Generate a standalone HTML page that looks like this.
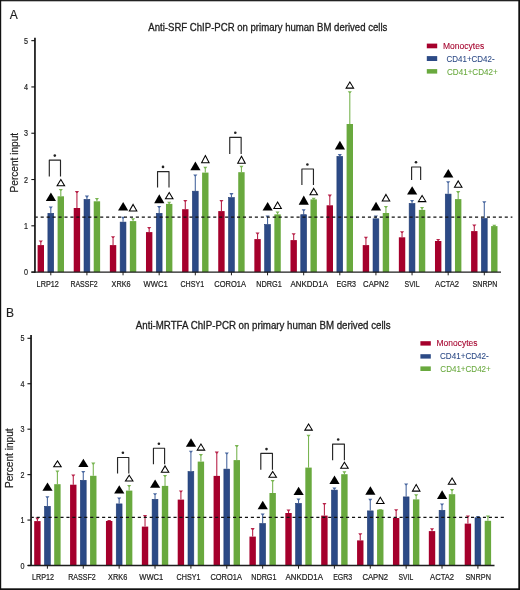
<!DOCTYPE html>
<html><head><meta charset="utf-8"><title>ChIP-PCR</title>
<style>html,body{margin:0;padding:0;background:#fff;width:520px;height:590px;overflow:hidden;font-family:"Liberation Sans",sans-serif;}</style>
</head><body>
<svg width="520" height="590" viewBox="0 0 520 590" style="display:block;will-change:transform;font-family:'Liberation Sans', sans-serif">
<rect x="0" y="0" width="520" height="590" fill="#fff"/>
<line x1="40.8" y1="241.5" x2="40.8" y2="245.1" stroke="#b8234a" stroke-width="1.1"/>
<polygon points="38.75,240.4 42.85,240.4 41.5,242.2 40.1,242.2" fill="#b8234a"/>
<rect x="37.6" y="245.1" width="6.4" height="27" fill="#a5002c"/>
<line x1="50.8" y1="207.5" x2="50.8" y2="213" stroke="#4a68a0" stroke-width="1.1"/>
<polygon points="48.75,206.4 52.85,206.4 51.5,208.2 50.1,208.2" fill="#4a68a0"/>
<rect x="47.9" y="213.3" width="5.8" height="58.8" fill="#2c4a86" stroke="#203c74" stroke-width="0.6"/>
<line x1="60.8" y1="190" x2="60.8" y2="196.3" stroke="#79b552" stroke-width="1.1"/>
<polygon points="58.75,188.9 62.85,188.9 61.5,190.7 60.1,190.7" fill="#79b552"/>
<rect x="57.6" y="196.3" width="6.4" height="75.8" fill="#69a93e"/>
<line x1="76.92" y1="192.2" x2="76.92" y2="208" stroke="#b8234a" stroke-width="1.1"/>
<polygon points="74.88,191.1 78.97,191.1 77.62,192.9 76.22,192.9" fill="#b8234a"/>
<rect x="73.72" y="208" width="6.4" height="64.1" fill="#a5002c"/>
<line x1="86.92" y1="196.7" x2="86.92" y2="199.1" stroke="#4a68a0" stroke-width="1.1"/>
<polygon points="84.88,195.6 88.97,195.6 87.62,197.4 86.22,197.4" fill="#4a68a0"/>
<rect x="84.02" y="199.4" width="5.8" height="72.7" fill="#2c4a86" stroke="#203c74" stroke-width="0.6"/>
<line x1="96.92" y1="199" x2="96.92" y2="201.3" stroke="#79b552" stroke-width="1.1"/>
<polygon points="94.88,197.9 98.97,197.9 97.62,199.7 96.22,199.7" fill="#79b552"/>
<rect x="93.72" y="201.3" width="6.4" height="70.8" fill="#69a93e"/>
<line x1="113.05" y1="237.4" x2="113.05" y2="245.1" stroke="#b8234a" stroke-width="1.1"/>
<polygon points="111,236.3 115.1,236.3 113.75,238.1 112.35,238.1" fill="#b8234a"/>
<rect x="109.85" y="245.1" width="6.4" height="27" fill="#a5002c"/>
<line x1="123.05" y1="217.8" x2="123.05" y2="221.8" stroke="#4a68a0" stroke-width="1.1"/>
<polygon points="121,216.7 125.1,216.7 123.75,218.5 122.35,218.5" fill="#4a68a0"/>
<rect x="120.15" y="222.1" width="5.8" height="50" fill="#2c4a86" stroke="#203c74" stroke-width="0.6"/>
<line x1="133.05" y1="219.3" x2="133.05" y2="221.1" stroke="#79b552" stroke-width="1.1"/>
<polygon points="131,218.2 135.1,218.2 133.75,220 132.35,220" fill="#79b552"/>
<rect x="129.85" y="221.1" width="6.4" height="51" fill="#69a93e"/>
<line x1="149.18" y1="228" x2="149.18" y2="232.1" stroke="#b8234a" stroke-width="1.1"/>
<polygon points="147.12,226.9 151.23,226.9 149.88,228.7 148.48,228.7" fill="#b8234a"/>
<rect x="145.98" y="232.1" width="6.4" height="40" fill="#a5002c"/>
<line x1="159.18" y1="207.1" x2="159.18" y2="213" stroke="#4a68a0" stroke-width="1.1"/>
<polygon points="157.12,206 161.23,206 159.88,207.8 158.48,207.8" fill="#4a68a0"/>
<rect x="156.28" y="213.3" width="5.8" height="58.8" fill="#2c4a86" stroke="#203c74" stroke-width="0.6"/>
<line x1="169.18" y1="202.9" x2="169.18" y2="203.9" stroke="#79b552" stroke-width="1.1"/>
<polygon points="167.12,201.8 171.23,201.8 169.88,203.6 168.48,203.6" fill="#79b552"/>
<rect x="165.98" y="203.9" width="6.4" height="68.2" fill="#69a93e"/>
<line x1="185.3" y1="201.1" x2="185.3" y2="209.2" stroke="#b8234a" stroke-width="1.1"/>
<polygon points="183.25,200 187.35,200 186,201.8 184.6,201.8" fill="#b8234a"/>
<rect x="182.1" y="209.2" width="6.4" height="62.9" fill="#a5002c"/>
<line x1="195.3" y1="175.5" x2="195.3" y2="190.9" stroke="#4a68a0" stroke-width="1.1"/>
<polygon points="193.25,174.4 197.35,174.4 196,176.2 194.6,176.2" fill="#4a68a0"/>
<rect x="192.4" y="191.2" width="5.8" height="80.9" fill="#2c4a86" stroke="#203c74" stroke-width="0.6"/>
<line x1="205.3" y1="167.9" x2="205.3" y2="172.6" stroke="#79b552" stroke-width="1.1"/>
<polygon points="203.25,166.8 207.35,166.8 206,168.6 204.6,168.6" fill="#79b552"/>
<rect x="202.1" y="172.6" width="6.4" height="99.5" fill="#69a93e"/>
<line x1="221.43" y1="201.1" x2="221.43" y2="211.1" stroke="#b8234a" stroke-width="1.1"/>
<polygon points="219.38,200 223.48,200 222.12,201.8 220.73,201.8" fill="#b8234a"/>
<rect x="218.23" y="211.1" width="6.4" height="61" fill="#a5002c"/>
<line x1="231.43" y1="194.2" x2="231.43" y2="197.3" stroke="#4a68a0" stroke-width="1.1"/>
<polygon points="229.38,193.1 233.48,193.1 232.12,194.9 230.73,194.9" fill="#4a68a0"/>
<rect x="228.53" y="197.6" width="5.8" height="74.5" fill="#2c4a86" stroke="#203c74" stroke-width="0.6"/>
<line x1="241.43" y1="166.8" x2="241.43" y2="172.2" stroke="#79b552" stroke-width="1.1"/>
<polygon points="239.38,165.7 243.48,165.7 242.12,167.5 240.73,167.5" fill="#79b552"/>
<rect x="238.23" y="172.2" width="6.4" height="99.9" fill="#69a93e"/>
<line x1="257.55" y1="233.6" x2="257.55" y2="239.1" stroke="#b8234a" stroke-width="1.1"/>
<polygon points="255.5,232.5 259.6,232.5 258.25,234.3 256.85,234.3" fill="#b8234a"/>
<rect x="254.35" y="239.1" width="6.4" height="33" fill="#a5002c"/>
<line x1="267.55" y1="216.5" x2="267.55" y2="224.2" stroke="#4a68a0" stroke-width="1.1"/>
<polygon points="265.5,215.4 269.6,215.4 268.25,217.2 266.85,217.2" fill="#4a68a0"/>
<rect x="264.65" y="224.5" width="5.8" height="47.6" fill="#2c4a86" stroke="#203c74" stroke-width="0.6"/>
<line x1="277.55" y1="212.6" x2="277.55" y2="214.4" stroke="#79b552" stroke-width="1.1"/>
<polygon points="275.5,211.5 279.6,211.5 278.25,213.3 276.85,213.3" fill="#79b552"/>
<rect x="274.35" y="214.4" width="6.4" height="57.7" fill="#69a93e"/>
<line x1="293.68" y1="234.4" x2="293.68" y2="240.1" stroke="#b8234a" stroke-width="1.1"/>
<polygon points="291.62,233.3 295.73,233.3 294.38,235.1 292.98,235.1" fill="#b8234a"/>
<rect x="290.48" y="240.1" width="6.4" height="32" fill="#a5002c"/>
<line x1="303.68" y1="210.3" x2="303.68" y2="214.4" stroke="#4a68a0" stroke-width="1.1"/>
<polygon points="301.62,209.2 305.73,209.2 304.38,211 302.98,211" fill="#4a68a0"/>
<rect x="300.78" y="214.7" width="5.8" height="57.4" fill="#2c4a86" stroke="#203c74" stroke-width="0.6"/>
<line x1="313.68" y1="198.8" x2="313.68" y2="199.4" stroke="#79b552" stroke-width="1.1"/>
<polygon points="311.62,197.7 315.73,197.7 314.38,199.5 312.98,199.5" fill="#79b552"/>
<rect x="310.48" y="199.4" width="6.4" height="72.7" fill="#69a93e"/>
<line x1="329.8" y1="195.7" x2="329.8" y2="205.3" stroke="#b8234a" stroke-width="1.1"/>
<polygon points="327.75,194.6 331.85,194.6 330.5,196.4 329.1,196.4" fill="#b8234a"/>
<rect x="326.6" y="205.3" width="6.4" height="66.8" fill="#a5002c"/>
<line x1="339.8" y1="155.2" x2="339.8" y2="156.1" stroke="#4a68a0" stroke-width="1.1"/>
<polygon points="337.75,154.1 341.85,154.1 340.5,155.9 339.1,155.9" fill="#4a68a0"/>
<rect x="336.9" y="156.4" width="5.8" height="115.7" fill="#2c4a86" stroke="#203c74" stroke-width="0.6"/>
<line x1="349.8" y1="92.3" x2="349.8" y2="124" stroke="#79b552" stroke-width="1.1"/>
<polygon points="347.75,91.2 351.85,91.2 350.5,93 349.1,93" fill="#79b552"/>
<rect x="346.6" y="124" width="6.4" height="148.1" fill="#69a93e"/>
<line x1="365.93" y1="237.9" x2="365.93" y2="245.1" stroke="#b8234a" stroke-width="1.1"/>
<polygon points="363.88,236.8 367.98,236.8 366.62,238.6 365.23,238.6" fill="#b8234a"/>
<rect x="362.73" y="245.1" width="6.4" height="27" fill="#a5002c"/>
<line x1="375.93" y1="216.5" x2="375.93" y2="218.5" stroke="#4a68a0" stroke-width="1.1"/>
<polygon points="373.88,215.4 377.98,215.4 376.62,217.2 375.23,217.2" fill="#4a68a0"/>
<rect x="373.03" y="218.8" width="5.8" height="53.3" fill="#2c4a86" stroke="#203c74" stroke-width="0.6"/>
<line x1="385.93" y1="207.1" x2="385.93" y2="213" stroke="#79b552" stroke-width="1.1"/>
<polygon points="383.88,206 387.98,206 386.62,207.8 385.23,207.8" fill="#79b552"/>
<rect x="382.73" y="213" width="6.4" height="59.1" fill="#69a93e"/>
<line x1="402.05" y1="232.3" x2="402.05" y2="237.3" stroke="#b8234a" stroke-width="1.1"/>
<polygon points="400,231.2 404.1,231.2 402.75,233 401.35,233" fill="#b8234a"/>
<rect x="398.85" y="237.3" width="6.4" height="34.8" fill="#a5002c"/>
<line x1="412.05" y1="201" x2="412.05" y2="203.2" stroke="#4a68a0" stroke-width="1.1"/>
<polygon points="410,199.9 414.1,199.9 412.75,201.7 411.35,201.7" fill="#4a68a0"/>
<rect x="409.15" y="203.5" width="5.8" height="68.6" fill="#2c4a86" stroke="#203c74" stroke-width="0.6"/>
<line x1="422.05" y1="208.1" x2="422.05" y2="209.9" stroke="#79b552" stroke-width="1.1"/>
<polygon points="420,207 424.1,207 422.75,208.8 421.35,208.8" fill="#79b552"/>
<rect x="418.85" y="209.9" width="6.4" height="62.2" fill="#69a93e"/>
<line x1="438.18" y1="240.1" x2="438.18" y2="241" stroke="#b8234a" stroke-width="1.1"/>
<polygon points="436.12,239 440.23,239 438.88,240.8 437.48,240.8" fill="#b8234a"/>
<rect x="434.98" y="241" width="6.4" height="31.1" fill="#a5002c"/>
<line x1="448.18" y1="182.4" x2="448.18" y2="193.8" stroke="#4a68a0" stroke-width="1.1"/>
<polygon points="446.12,181.3 450.23,181.3 448.88,183.1 447.48,183.1" fill="#4a68a0"/>
<rect x="445.28" y="194.1" width="5.8" height="78" fill="#2c4a86" stroke="#203c74" stroke-width="0.6"/>
<line x1="458.18" y1="192.2" x2="458.18" y2="199.1" stroke="#79b552" stroke-width="1.1"/>
<polygon points="456.12,191.1 460.23,191.1 458.88,192.9 457.48,192.9" fill="#79b552"/>
<rect x="454.98" y="199.1" width="6.4" height="73" fill="#69a93e"/>
<line x1="474.3" y1="225.6" x2="474.3" y2="231.1" stroke="#b8234a" stroke-width="1.1"/>
<polygon points="472.25,224.5 476.35,224.5 475,226.3 473.6,226.3" fill="#b8234a"/>
<rect x="471.1" y="231.1" width="6.4" height="41" fill="#a5002c"/>
<line x1="484.3" y1="202.3" x2="484.3" y2="218.1" stroke="#4a68a0" stroke-width="1.1"/>
<polygon points="482.25,201.2 486.35,201.2 485,203 483.6,203" fill="#4a68a0"/>
<rect x="481.4" y="218.4" width="5.8" height="53.7" fill="#2c4a86" stroke="#203c74" stroke-width="0.6"/>
<line x1="494.3" y1="225.8" x2="494.3" y2="226.1" stroke="#79b552" stroke-width="1.1"/>
<polygon points="492.25,224.7 496.35,224.7 495,226.5 493.6,226.5" fill="#79b552"/>
<rect x="491.1" y="226.1" width="6.4" height="46" fill="#69a93e"/>
<line x1="35.3" y1="217.1" x2="512.4" y2="217.1" stroke="#111" stroke-width="1.4" stroke-dasharray="3.1 2.85" stroke-dashoffset="0.6"/>
<line x1="34.95" y1="37.8" x2="34.95" y2="272.7" stroke="#151515" stroke-width="1.7"/>
<line x1="31.4" y1="272.1" x2="501" y2="272.1" stroke="#1e1e1e" stroke-width="1.3"/>
<line x1="31.35" y1="272.1" x2="34.95" y2="272.1" stroke="#111" stroke-width="1.1"/>
<text x="27.9" y="275.25" font-size="8.7" fill="#1e1e1e" stroke="#1e1e1e" stroke-width="0.2" text-anchor="end" textLength="4" lengthAdjust="spacingAndGlyphs">0</text>
<line x1="31.35" y1="225.81" x2="34.95" y2="225.81" stroke="#111" stroke-width="1.1"/>
<text x="27.9" y="228.96" font-size="8.7" fill="#1e1e1e" stroke="#1e1e1e" stroke-width="0.2" text-anchor="end" textLength="4" lengthAdjust="spacingAndGlyphs">1</text>
<line x1="31.35" y1="179.52" x2="34.95" y2="179.52" stroke="#111" stroke-width="1.1"/>
<text x="27.9" y="182.67" font-size="8.7" fill="#1e1e1e" stroke="#1e1e1e" stroke-width="0.2" text-anchor="end" textLength="4" lengthAdjust="spacingAndGlyphs">2</text>
<line x1="31.35" y1="133.23" x2="34.95" y2="133.23" stroke="#111" stroke-width="1.1"/>
<text x="27.9" y="136.38" font-size="8.7" fill="#1e1e1e" stroke="#1e1e1e" stroke-width="0.2" text-anchor="end" textLength="4" lengthAdjust="spacingAndGlyphs">3</text>
<line x1="31.35" y1="86.94" x2="34.95" y2="86.94" stroke="#111" stroke-width="1.1"/>
<text x="27.9" y="90.09" font-size="8.7" fill="#1e1e1e" stroke="#1e1e1e" stroke-width="0.2" text-anchor="end" textLength="4" lengthAdjust="spacingAndGlyphs">4</text>
<line x1="31.35" y1="40.65" x2="34.95" y2="40.65" stroke="#111" stroke-width="1.1"/>
<text x="27.9" y="43.8" font-size="8.7" fill="#1e1e1e" stroke="#1e1e1e" stroke-width="0.2" text-anchor="end" textLength="4" lengthAdjust="spacingAndGlyphs">5</text>
<line x1="50.8" y1="272.1" x2="50.8" y2="275.3" stroke="#1e1e1e" stroke-width="1"/>
<line x1="86.92" y1="272.1" x2="86.92" y2="275.3" stroke="#1e1e1e" stroke-width="1"/>
<line x1="123.05" y1="272.1" x2="123.05" y2="275.3" stroke="#1e1e1e" stroke-width="1"/>
<line x1="159.18" y1="272.1" x2="159.18" y2="275.3" stroke="#1e1e1e" stroke-width="1"/>
<line x1="195.3" y1="272.1" x2="195.3" y2="275.3" stroke="#1e1e1e" stroke-width="1"/>
<line x1="231.43" y1="272.1" x2="231.43" y2="275.3" stroke="#1e1e1e" stroke-width="1"/>
<line x1="267.55" y1="272.1" x2="267.55" y2="275.3" stroke="#1e1e1e" stroke-width="1"/>
<line x1="303.68" y1="272.1" x2="303.68" y2="275.3" stroke="#1e1e1e" stroke-width="1"/>
<line x1="339.8" y1="272.1" x2="339.8" y2="275.3" stroke="#1e1e1e" stroke-width="1"/>
<line x1="375.93" y1="272.1" x2="375.93" y2="275.3" stroke="#1e1e1e" stroke-width="1"/>
<line x1="412.05" y1="272.1" x2="412.05" y2="275.3" stroke="#1e1e1e" stroke-width="1"/>
<line x1="448.18" y1="272.1" x2="448.18" y2="275.3" stroke="#1e1e1e" stroke-width="1"/>
<line x1="484.3" y1="272.1" x2="484.3" y2="275.3" stroke="#1e1e1e" stroke-width="1"/>
<text x="36.61" y="286.6" font-size="8.8" fill="#1e1e1e" stroke="#1e1e1e" stroke-width="0.22" textLength="22.18" lengthAdjust="spacingAndGlyphs">LRP12</text>
<text x="70.41" y="286.6" font-size="8.8" fill="#1e1e1e" stroke="#1e1e1e" stroke-width="0.22" textLength="27.18" lengthAdjust="spacingAndGlyphs">RASSF2</text>
<text x="111.61" y="286.6" font-size="8.8" fill="#1e1e1e" stroke="#1e1e1e" stroke-width="0.22" textLength="19.08" lengthAdjust="spacingAndGlyphs">XRK6</text>
<text x="143.61" y="286.6" font-size="8.8" fill="#1e1e1e" stroke="#1e1e1e" stroke-width="0.22" textLength="24.08" lengthAdjust="spacingAndGlyphs">WWC1</text>
<text x="180.51" y="286.6" font-size="8.8" fill="#1e1e1e" stroke="#1e1e1e" stroke-width="0.22" textLength="23.58" lengthAdjust="spacingAndGlyphs">CHSY1</text>
<text x="214.31" y="286.6" font-size="8.8" fill="#1e1e1e" stroke="#1e1e1e" stroke-width="0.22" textLength="31.68" lengthAdjust="spacingAndGlyphs">CORO1A</text>
<text x="256.21" y="286.6" font-size="8.8" fill="#1e1e1e" stroke="#1e1e1e" stroke-width="0.22" textLength="25.58" lengthAdjust="spacingAndGlyphs">NDRG1</text>
<text x="290.51" y="286.6" font-size="8.8" fill="#1e1e1e" stroke="#1e1e1e" stroke-width="0.22" textLength="37.48" lengthAdjust="spacingAndGlyphs">ANKDD1A</text>
<text x="336.61" y="286.6" font-size="8.8" fill="#1e1e1e" stroke="#1e1e1e" stroke-width="0.22" textLength="19.38" lengthAdjust="spacingAndGlyphs">EGR3</text>
<text x="363.11" y="286.6" font-size="8.8" fill="#1e1e1e" stroke="#1e1e1e" stroke-width="0.22" textLength="25.58" lengthAdjust="spacingAndGlyphs">CAPN2</text>
<text x="404.61" y="286.6" font-size="8.8" fill="#1e1e1e" stroke="#1e1e1e" stroke-width="0.22" textLength="14.88" lengthAdjust="spacingAndGlyphs">SVIL</text>
<text x="435.11" y="286.6" font-size="8.8" fill="#1e1e1e" stroke="#1e1e1e" stroke-width="0.22" textLength="23.98" lengthAdjust="spacingAndGlyphs">ACTA2</text>
<text x="472.51" y="286.6" font-size="8.8" fill="#1e1e1e" stroke="#1e1e1e" stroke-width="0.22" textLength="24.98" lengthAdjust="spacingAndGlyphs">SNRPN</text>
<polygon points="50.9,192.4 56,200.9 45.8,200.9" fill="#000"/>
<polygon points="123.15,202.1 128.25,210.6 118.05,210.6" fill="#000"/>
<polygon points="159.28,194.3 164.38,203.2 154.18,203.2" fill="#000"/>
<polygon points="195.4,161.6 200.5,170.3 190.3,170.3" fill="#000"/>
<polygon points="267.65,202.1 272.75,210.6 262.55,210.6" fill="#000"/>
<polygon points="303.78,195.6 308.88,204.7 298.68,204.7" fill="#000"/>
<polygon points="339.9,140.8 345,149.5 334.8,149.5" fill="#000"/>
<polygon points="376.03,201.8 381.13,210.5 370.93,210.5" fill="#000"/>
<polygon points="412.15,186.3 417.25,194.4 407.05,194.4" fill="#000"/>
<polygon points="448.28,168.9 453.38,177.6 443.18,177.6" fill="#000"/>
<polygon points="60.85,179.6 64.6,185.7 57.1,185.7" fill="#fff" stroke="#000" stroke-width="1.05" stroke-linejoin="miter"/>
<polygon points="133.1,204.4 136.85,210.9 129.35,210.9" fill="#fff" stroke="#000" stroke-width="1.05" stroke-linejoin="miter"/>
<polygon points="169.23,192.6 172.98,198.8 165.48,198.8" fill="#fff" stroke="#000" stroke-width="1.05" stroke-linejoin="miter"/>
<polygon points="205.35,155.6 209.1,162.7 201.6,162.7" fill="#fff" stroke="#000" stroke-width="1.05" stroke-linejoin="miter"/>
<polygon points="241.48,156.3 245.23,163.2 237.73,163.2" fill="#fff" stroke="#000" stroke-width="1.05" stroke-linejoin="miter"/>
<polygon points="277.6,202 281.35,208.5 273.85,208.5" fill="#fff" stroke="#000" stroke-width="1.05" stroke-linejoin="miter"/>
<polygon points="313.73,188.4 317.48,194.7 309.98,194.7" fill="#fff" stroke="#000" stroke-width="1.05" stroke-linejoin="miter"/>
<polygon points="349.85,82 353.6,88.1 346.1,88.1" fill="#fff" stroke="#000" stroke-width="1.05" stroke-linejoin="miter"/>
<polygon points="385.98,194.4 389.73,200.9 382.23,200.9" fill="#fff" stroke="#000" stroke-width="1.05" stroke-linejoin="miter"/>
<polygon points="422.1,195.4 425.85,201.6 418.35,201.6" fill="#fff" stroke="#000" stroke-width="1.05" stroke-linejoin="miter"/>
<polygon points="458.23,180.9 461.98,187.2 454.48,187.2" fill="#fff" stroke="#000" stroke-width="1.05" stroke-linejoin="miter"/>
<polyline points="49.3,176.4 49.3,160.15 60.5,160.15 60.5,176.4" fill="none" stroke="#262626" stroke-width="1.15" stroke-linejoin="round"/>
<circle cx="54.8" cy="155.6" r="1.3" fill="#222"/>
<polyline points="157.55,187.6 157.55,171.6 169,171.6 169,187.6" fill="none" stroke="#262626" stroke-width="1.15" stroke-linejoin="round"/>
<circle cx="163" cy="166.9" r="1.3" fill="#222"/>
<polyline points="229.75,153.9 229.75,137.3 241.15,137.3 241.15,153.9" fill="none" stroke="#262626" stroke-width="1.15" stroke-linejoin="round"/>
<circle cx="235.3" cy="132.7" r="1.3" fill="#222"/>
<polyline points="301.9,185.1 301.9,169 313.45,169 313.45,185.1" fill="none" stroke="#262626" stroke-width="1.15" stroke-linejoin="round"/>
<circle cx="307.4" cy="164.5" r="1.3" fill="#222"/>
<polyline points="411.6,180 411.6,167 420.65,167 420.65,180" fill="none" stroke="#262626" stroke-width="1.15" stroke-linejoin="round"/>
<circle cx="416" cy="162.3" r="1.3" fill="#222"/>
<text x="148.35" y="31.3" font-size="10.3" fill="#1e1e1e" stroke="#1e1e1e" stroke-width="0.3" textLength="239" lengthAdjust="spacingAndGlyphs">Anti-SRF ChIP-PCR on primary human BM derived cells</text>
<text x="9.8" y="18.8" font-size="12" fill="#1e1e1e" stroke="#1e1e1e" stroke-width="0.15">A</text>
<rect x="426.8" y="43.6" width="10.4" height="4.7" fill="#a5002c"/>
<text x="443.04" y="48.5" font-size="8.5" fill="#a5002c" stroke="#a5002c" stroke-width="0.08" textLength="41.12" lengthAdjust="spacingAndGlyphs">Monocytes</text>
<rect x="426.8" y="56.1" width="10.4" height="4.9" fill="#2c4a86"/>
<text x="446.54" y="61.8" font-size="8.5" fill="#2c4a86" stroke="#2c4a86" stroke-width="0.08" textLength="48.02" lengthAdjust="spacingAndGlyphs">CD41+CD42-</text>
<rect x="426.8" y="69.1" width="10.4" height="4.5" fill="#69a93e"/>
<text x="447.04" y="74.5" font-size="8.5" fill="#69a93e" stroke="#69a93e" stroke-width="0.08" textLength="50.62" lengthAdjust="spacingAndGlyphs">CD41+CD42+</text>
<text transform="translate(17.5 192.4) rotate(-90)" font-size="10.4" fill="#1e1e1e" stroke="#1e1e1e" stroke-width="0.2" textLength="59.5" lengthAdjust="spacingAndGlyphs">Percent input</text>
<line x1="37.4" y1="518.7" x2="37.4" y2="521.1" stroke="#b8234a" stroke-width="1.1"/>
<polygon points="35.35,517.6 39.45,517.6 38.1,519.4 36.7,519.4" fill="#b8234a"/>
<rect x="34.2" y="521.1" width="6.4" height="44.4" fill="#a5002c"/>
<line x1="47.4" y1="497.3" x2="47.4" y2="506" stroke="#4a68a0" stroke-width="1.1"/>
<polygon points="45.35,496.2 49.45,496.2 48.1,498 46.7,498" fill="#4a68a0"/>
<rect x="44.5" y="506.3" width="5.8" height="59.2" fill="#2c4a86" stroke="#203c74" stroke-width="0.6"/>
<line x1="57.4" y1="471.5" x2="57.4" y2="484.2" stroke="#79b552" stroke-width="1.1"/>
<polygon points="55.35,470.4 59.45,470.4 58.1,472.2 56.7,472.2" fill="#79b552"/>
<rect x="54.2" y="484.2" width="6.4" height="81.3" fill="#69a93e"/>
<line x1="73.28" y1="475.5" x2="73.28" y2="484.7" stroke="#b8234a" stroke-width="1.1"/>
<polygon points="71.23,474.4 75.33,474.4 73.98,476.2 72.58,476.2" fill="#b8234a"/>
<rect x="70.08" y="484.7" width="6.4" height="80.8" fill="#a5002c"/>
<line x1="83.28" y1="472.1" x2="83.28" y2="480" stroke="#4a68a0" stroke-width="1.1"/>
<polygon points="81.23,471 85.33,471 83.98,472.8 82.58,472.8" fill="#4a68a0"/>
<rect x="80.38" y="480.3" width="5.8" height="85.2" fill="#2c4a86" stroke="#203c74" stroke-width="0.6"/>
<line x1="93.28" y1="463.7" x2="93.28" y2="475.8" stroke="#79b552" stroke-width="1.1"/>
<polygon points="91.23,462.6 95.33,462.6 93.98,464.4 92.58,464.4" fill="#79b552"/>
<rect x="90.08" y="475.8" width="6.4" height="89.7" fill="#69a93e"/>
<line x1="109.15" y1="521" x2="109.15" y2="521" stroke="#b8234a" stroke-width="1.1"/>
<polygon points="107.1,519.9 111.2,519.9 109.85,521.7 108.45,521.7" fill="#b8234a"/>
<rect x="105.95" y="521" width="6.4" height="44.5" fill="#a5002c"/>
<line x1="119.15" y1="498.5" x2="119.15" y2="503.6" stroke="#4a68a0" stroke-width="1.1"/>
<polygon points="117.1,497.4 121.2,497.4 119.85,499.2 118.45,499.2" fill="#4a68a0"/>
<rect x="116.25" y="503.9" width="5.8" height="61.6" fill="#2c4a86" stroke="#203c74" stroke-width="0.6"/>
<line x1="129.15" y1="486" x2="129.15" y2="490.6" stroke="#79b552" stroke-width="1.1"/>
<polygon points="127.1,484.9 131.2,484.9 129.85,486.7 128.45,486.7" fill="#79b552"/>
<rect x="125.95" y="490.6" width="6.4" height="74.9" fill="#69a93e"/>
<line x1="145.03" y1="516.2" x2="145.03" y2="526.6" stroke="#b8234a" stroke-width="1.1"/>
<polygon points="142.97,515.1 147.08,515.1 145.72,516.9 144.33,516.9" fill="#b8234a"/>
<rect x="141.83" y="526.6" width="6.4" height="38.9" fill="#a5002c"/>
<line x1="155.03" y1="494.4" x2="155.03" y2="499" stroke="#4a68a0" stroke-width="1.1"/>
<polygon points="152.97,493.3 157.08,493.3 155.72,495.1 154.33,495.1" fill="#4a68a0"/>
<rect x="152.13" y="499.3" width="5.8" height="66.2" fill="#2c4a86" stroke="#203c74" stroke-width="0.6"/>
<line x1="165.03" y1="476.1" x2="165.03" y2="485.9" stroke="#79b552" stroke-width="1.1"/>
<polygon points="162.97,475 167.08,475 165.72,476.8 164.33,476.8" fill="#79b552"/>
<rect x="161.83" y="485.9" width="6.4" height="79.6" fill="#69a93e"/>
<line x1="180.9" y1="491.5" x2="180.9" y2="499.6" stroke="#b8234a" stroke-width="1.1"/>
<polygon points="178.85,490.4 182.95,490.4 181.6,492.2 180.2,492.2" fill="#b8234a"/>
<rect x="177.7" y="499.6" width="6.4" height="65.9" fill="#a5002c"/>
<line x1="190.9" y1="451.8" x2="190.9" y2="471.3" stroke="#4a68a0" stroke-width="1.1"/>
<polygon points="188.85,450.7 192.95,450.7 191.6,452.5 190.2,452.5" fill="#4a68a0"/>
<rect x="188" y="471.6" width="5.8" height="93.9" fill="#2c4a86" stroke="#203c74" stroke-width="0.6"/>
<line x1="200.9" y1="455.1" x2="200.9" y2="461.6" stroke="#79b552" stroke-width="1.1"/>
<polygon points="198.85,454 202.95,454 201.6,455.8 200.2,455.8" fill="#79b552"/>
<rect x="197.7" y="461.6" width="6.4" height="103.9" fill="#69a93e"/>
<line x1="216.78" y1="452.7" x2="216.78" y2="475.9" stroke="#b8234a" stroke-width="1.1"/>
<polygon points="214.72,451.6 218.83,451.6 217.47,453.4 216.08,453.4" fill="#b8234a"/>
<rect x="213.58" y="475.9" width="6.4" height="89.6" fill="#a5002c"/>
<line x1="226.78" y1="453.6" x2="226.78" y2="468.8" stroke="#4a68a0" stroke-width="1.1"/>
<polygon points="224.72,452.5 228.83,452.5 227.47,454.3 226.08,454.3" fill="#4a68a0"/>
<rect x="223.88" y="469.1" width="5.8" height="96.4" fill="#2c4a86" stroke="#203c74" stroke-width="0.6"/>
<line x1="236.78" y1="446.2" x2="236.78" y2="460.1" stroke="#79b552" stroke-width="1.1"/>
<polygon points="234.72,445.1 238.83,445.1 237.47,446.9 236.08,446.9" fill="#79b552"/>
<rect x="233.58" y="460.1" width="6.4" height="105.4" fill="#69a93e"/>
<line x1="252.65" y1="529.2" x2="252.65" y2="536.6" stroke="#b8234a" stroke-width="1.1"/>
<polygon points="250.6,528.1 254.7,528.1 253.35,529.9 251.95,529.9" fill="#b8234a"/>
<rect x="249.45" y="536.6" width="6.4" height="28.9" fill="#a5002c"/>
<line x1="262.65" y1="514.5" x2="262.65" y2="523.2" stroke="#4a68a0" stroke-width="1.1"/>
<polygon points="260.6,513.4 264.7,513.4 263.35,515.2 261.95,515.2" fill="#4a68a0"/>
<rect x="259.75" y="523.5" width="5.8" height="42" fill="#2c4a86" stroke="#203c74" stroke-width="0.6"/>
<line x1="272.65" y1="481" x2="272.65" y2="493" stroke="#79b552" stroke-width="1.1"/>
<polygon points="270.6,479.9 274.7,479.9 273.35,481.7 271.95,481.7" fill="#79b552"/>
<rect x="269.45" y="493" width="6.4" height="72.5" fill="#69a93e"/>
<line x1="288.52" y1="510.6" x2="288.52" y2="513" stroke="#b8234a" stroke-width="1.1"/>
<polygon points="286.47,509.5 290.57,509.5 289.22,511.3 287.82,511.3" fill="#b8234a"/>
<rect x="285.32" y="513" width="6.4" height="52.5" fill="#a5002c"/>
<line x1="298.52" y1="499.6" x2="298.52" y2="503.1" stroke="#4a68a0" stroke-width="1.1"/>
<polygon points="296.47,498.5 300.57,498.5 299.22,500.3 297.82,500.3" fill="#4a68a0"/>
<rect x="295.62" y="503.4" width="5.8" height="62.1" fill="#2c4a86" stroke="#203c74" stroke-width="0.6"/>
<line x1="308.52" y1="435.8" x2="308.52" y2="467.6" stroke="#79b552" stroke-width="1.1"/>
<polygon points="306.47,434.7 310.57,434.7 309.22,436.5 307.82,436.5" fill="#79b552"/>
<rect x="305.32" y="467.6" width="6.4" height="97.9" fill="#69a93e"/>
<line x1="324.4" y1="504" x2="324.4" y2="515.6" stroke="#b8234a" stroke-width="1.1"/>
<polygon points="322.35,502.9 326.45,502.9 325.1,504.7 323.7,504.7" fill="#b8234a"/>
<rect x="321.2" y="515.6" width="6.4" height="49.9" fill="#a5002c"/>
<line x1="334.4" y1="488.6" x2="334.4" y2="489.8" stroke="#4a68a0" stroke-width="1.1"/>
<polygon points="332.35,487.5 336.45,487.5 335.1,489.3 333.7,489.3" fill="#4a68a0"/>
<rect x="331.5" y="490.1" width="5.8" height="75.4" fill="#2c4a86" stroke="#203c74" stroke-width="0.6"/>
<line x1="344.4" y1="472.4" x2="344.4" y2="474.2" stroke="#79b552" stroke-width="1.1"/>
<polygon points="342.35,471.3 346.45,471.3 345.1,473.1 343.7,473.1" fill="#79b552"/>
<rect x="341.2" y="474.2" width="6.4" height="91.3" fill="#69a93e"/>
<line x1="360.27" y1="534.3" x2="360.27" y2="540.4" stroke="#b8234a" stroke-width="1.1"/>
<polygon points="358.22,533.2 362.32,533.2 360.97,535 359.57,535" fill="#b8234a"/>
<rect x="357.07" y="540.4" width="6.4" height="25.1" fill="#a5002c"/>
<line x1="370.27" y1="499.8" x2="370.27" y2="510.6" stroke="#4a68a0" stroke-width="1.1"/>
<polygon points="368.22,498.7 372.32,498.7 370.97,500.5 369.57,500.5" fill="#4a68a0"/>
<rect x="367.38" y="510.9" width="5.8" height="54.6" fill="#2c4a86" stroke="#203c74" stroke-width="0.6"/>
<line x1="380.27" y1="510.3" x2="380.27" y2="509.7" stroke="#79b552" stroke-width="1.1"/>
<polygon points="378.22,509.2 382.32,509.2 380.97,511 379.57,511" fill="#79b552"/>
<rect x="377.07" y="509.7" width="6.4" height="55.8" fill="#69a93e"/>
<line x1="396.15" y1="510.3" x2="396.15" y2="518" stroke="#b8234a" stroke-width="1.1"/>
<polygon points="394.1,509.2 398.2,509.2 396.85,511 395.45,511" fill="#b8234a"/>
<rect x="392.95" y="518" width="6.4" height="47.5" fill="#a5002c"/>
<line x1="406.15" y1="484.6" x2="406.15" y2="496.6" stroke="#4a68a0" stroke-width="1.1"/>
<polygon points="404.1,483.5 408.2,483.5 406.85,485.3 405.45,485.3" fill="#4a68a0"/>
<rect x="403.25" y="496.9" width="5.8" height="68.6" fill="#2c4a86" stroke="#203c74" stroke-width="0.6"/>
<line x1="416.15" y1="495.4" x2="416.15" y2="499.4" stroke="#79b552" stroke-width="1.1"/>
<polygon points="414.1,494.3 418.2,494.3 416.85,496.1 415.45,496.1" fill="#79b552"/>
<rect x="412.95" y="499.4" width="6.4" height="66.1" fill="#69a93e"/>
<line x1="432.02" y1="529.3" x2="432.02" y2="531.1" stroke="#b8234a" stroke-width="1.1"/>
<polygon points="429.97,528.2 434.07,528.2 432.72,530 431.32,530" fill="#b8234a"/>
<rect x="428.82" y="531.1" width="6.4" height="34.4" fill="#a5002c"/>
<line x1="442.02" y1="504.5" x2="442.02" y2="510" stroke="#4a68a0" stroke-width="1.1"/>
<polygon points="439.97,503.4 444.07,503.4 442.72,505.2 441.32,505.2" fill="#4a68a0"/>
<rect x="439.12" y="510.3" width="5.8" height="55.2" fill="#2c4a86" stroke="#203c74" stroke-width="0.6"/>
<line x1="452.02" y1="490.2" x2="452.02" y2="494.2" stroke="#79b552" stroke-width="1.1"/>
<polygon points="449.97,489.1 454.07,489.1 452.72,490.9 451.32,490.9" fill="#79b552"/>
<rect x="448.82" y="494.2" width="6.4" height="71.3" fill="#69a93e"/>
<line x1="467.9" y1="516.6" x2="467.9" y2="523.6" stroke="#b8234a" stroke-width="1.1"/>
<polygon points="465.85,515.5 469.95,515.5 468.6,517.3 467.2,517.3" fill="#b8234a"/>
<rect x="464.7" y="523.6" width="6.4" height="41.9" fill="#a5002c"/>
<line x1="477.9" y1="517.2" x2="477.9" y2="517.5" stroke="#4a68a0" stroke-width="1.1"/>
<polygon points="475.85,516.1 479.95,516.1 478.6,517.9 477.2,517.9" fill="#4a68a0"/>
<rect x="475" y="517.8" width="5.8" height="47.7" fill="#2c4a86" stroke="#203c74" stroke-width="0.6"/>
<line x1="487.9" y1="516.6" x2="487.9" y2="520.8" stroke="#79b552" stroke-width="1.1"/>
<polygon points="485.85,515.5 489.95,515.5 488.6,517.3 487.2,517.3" fill="#79b552"/>
<rect x="484.7" y="520.8" width="6.4" height="44.7" fill="#69a93e"/>
<line x1="31.5" y1="517.4" x2="504" y2="517.4" stroke="#111" stroke-width="1.4" stroke-dasharray="3.1 2.85" stroke-dashoffset="0.8"/>
<line x1="31.05" y1="334.9" x2="31.05" y2="566.1" stroke="#151515" stroke-width="1.7"/>
<line x1="27.7" y1="565.5" x2="494.5" y2="565.5" stroke="#1e1e1e" stroke-width="1.3"/>
<line x1="27.45" y1="565.5" x2="31.05" y2="565.5" stroke="#111" stroke-width="1.1"/>
<text x="24.4" y="568.65" font-size="8.7" fill="#1e1e1e" stroke="#1e1e1e" stroke-width="0.2" text-anchor="end" textLength="4" lengthAdjust="spacingAndGlyphs">0</text>
<line x1="27.45" y1="520.06" x2="31.05" y2="520.06" stroke="#111" stroke-width="1.1"/>
<text x="24.4" y="523.21" font-size="8.7" fill="#1e1e1e" stroke="#1e1e1e" stroke-width="0.2" text-anchor="end" textLength="4" lengthAdjust="spacingAndGlyphs">1</text>
<line x1="27.45" y1="474.62" x2="31.05" y2="474.62" stroke="#111" stroke-width="1.1"/>
<text x="24.4" y="477.77" font-size="8.7" fill="#1e1e1e" stroke="#1e1e1e" stroke-width="0.2" text-anchor="end" textLength="4" lengthAdjust="spacingAndGlyphs">2</text>
<line x1="27.45" y1="429.18" x2="31.05" y2="429.18" stroke="#111" stroke-width="1.1"/>
<text x="24.4" y="432.33" font-size="8.7" fill="#1e1e1e" stroke="#1e1e1e" stroke-width="0.2" text-anchor="end" textLength="4" lengthAdjust="spacingAndGlyphs">3</text>
<line x1="27.45" y1="383.74" x2="31.05" y2="383.74" stroke="#111" stroke-width="1.1"/>
<text x="24.4" y="386.89" font-size="8.7" fill="#1e1e1e" stroke="#1e1e1e" stroke-width="0.2" text-anchor="end" textLength="4" lengthAdjust="spacingAndGlyphs">4</text>
<line x1="27.45" y1="338.3" x2="31.05" y2="338.3" stroke="#111" stroke-width="1.1"/>
<text x="24.4" y="341.45" font-size="8.7" fill="#1e1e1e" stroke="#1e1e1e" stroke-width="0.2" text-anchor="end" textLength="4" lengthAdjust="spacingAndGlyphs">5</text>
<line x1="47.4" y1="565.5" x2="47.4" y2="568.7" stroke="#1e1e1e" stroke-width="1"/>
<line x1="83.28" y1="565.5" x2="83.28" y2="568.7" stroke="#1e1e1e" stroke-width="1"/>
<line x1="119.15" y1="565.5" x2="119.15" y2="568.7" stroke="#1e1e1e" stroke-width="1"/>
<line x1="155.03" y1="565.5" x2="155.03" y2="568.7" stroke="#1e1e1e" stroke-width="1"/>
<line x1="190.9" y1="565.5" x2="190.9" y2="568.7" stroke="#1e1e1e" stroke-width="1"/>
<line x1="226.78" y1="565.5" x2="226.78" y2="568.7" stroke="#1e1e1e" stroke-width="1"/>
<line x1="262.65" y1="565.5" x2="262.65" y2="568.7" stroke="#1e1e1e" stroke-width="1"/>
<line x1="298.52" y1="565.5" x2="298.52" y2="568.7" stroke="#1e1e1e" stroke-width="1"/>
<line x1="334.4" y1="565.5" x2="334.4" y2="568.7" stroke="#1e1e1e" stroke-width="1"/>
<line x1="370.27" y1="565.5" x2="370.27" y2="568.7" stroke="#1e1e1e" stroke-width="1"/>
<line x1="406.15" y1="565.5" x2="406.15" y2="568.7" stroke="#1e1e1e" stroke-width="1"/>
<line x1="442.02" y1="565.5" x2="442.02" y2="568.7" stroke="#1e1e1e" stroke-width="1"/>
<line x1="477.9" y1="565.5" x2="477.9" y2="568.7" stroke="#1e1e1e" stroke-width="1"/>
<text x="32.01" y="580" font-size="8.8" fill="#1e1e1e" stroke="#1e1e1e" stroke-width="0.22" textLength="22.08" lengthAdjust="spacingAndGlyphs">LRP12</text>
<text x="68.21" y="580" font-size="8.8" fill="#1e1e1e" stroke="#1e1e1e" stroke-width="0.22" textLength="27.48" lengthAdjust="spacingAndGlyphs">RASSF2</text>
<text x="108.11" y="580" font-size="8.8" fill="#1e1e1e" stroke="#1e1e1e" stroke-width="0.22" textLength="19.18" lengthAdjust="spacingAndGlyphs">XRK6</text>
<text x="139.31" y="580" font-size="8.8" fill="#1e1e1e" stroke="#1e1e1e" stroke-width="0.22" textLength="23.98" lengthAdjust="spacingAndGlyphs">WWC1</text>
<text x="176.61" y="580" font-size="8.8" fill="#1e1e1e" stroke="#1e1e1e" stroke-width="0.22" textLength="23.78" lengthAdjust="spacingAndGlyphs">CHSY1</text>
<text x="210.41" y="580" font-size="8.8" fill="#1e1e1e" stroke="#1e1e1e" stroke-width="0.22" textLength="31.48" lengthAdjust="spacingAndGlyphs">CORO1A</text>
<text x="251.21" y="580" font-size="8.8" fill="#1e1e1e" stroke="#1e1e1e" stroke-width="0.22" textLength="25.28" lengthAdjust="spacingAndGlyphs">NDRG1</text>
<text x="285.51" y="580" font-size="8.8" fill="#1e1e1e" stroke="#1e1e1e" stroke-width="0.22" textLength="37.48" lengthAdjust="spacingAndGlyphs">ANKDD1A</text>
<text x="333.21" y="580" font-size="8.8" fill="#1e1e1e" stroke="#1e1e1e" stroke-width="0.22" textLength="18.98" lengthAdjust="spacingAndGlyphs">EGR3</text>
<text x="362.41" y="580" font-size="8.8" fill="#1e1e1e" stroke="#1e1e1e" stroke-width="0.22" textLength="25.68" lengthAdjust="spacingAndGlyphs">CAPN2</text>
<text x="398.61" y="580" font-size="8.8" fill="#1e1e1e" stroke="#1e1e1e" stroke-width="0.22" textLength="14.68" lengthAdjust="spacingAndGlyphs">SVIL</text>
<text x="430.11" y="580" font-size="8.8" fill="#1e1e1e" stroke="#1e1e1e" stroke-width="0.22" textLength="23.98" lengthAdjust="spacingAndGlyphs">ACTA2</text>
<text x="465.51" y="580" font-size="8.8" fill="#1e1e1e" stroke="#1e1e1e" stroke-width="0.22" textLength="25.48" lengthAdjust="spacingAndGlyphs">SNRPN</text>
<polygon points="47.5,482.5 52.6,490.7 42.4,490.7" fill="#000"/>
<polygon points="83.38,458.8 88.47,467 78.28,467" fill="#000"/>
<polygon points="119.25,485.2 124.35,493.4 114.15,493.4" fill="#000"/>
<polygon points="155.12,479.6 160.22,487.8 150.03,487.8" fill="#000"/>
<polygon points="191,438.3 196.1,446.7 185.9,446.7" fill="#000"/>
<polygon points="262.75,500.7 267.85,509.2 257.65,509.2" fill="#000"/>
<polygon points="298.62,486.7 303.73,494.9 293.52,494.9" fill="#000"/>
<polygon points="334.5,475.4 339.6,483.9 329.4,483.9" fill="#000"/>
<polygon points="370.38,486.2 375.48,494.7 365.27,494.7" fill="#000"/>
<polygon points="442.12,490.3 447.23,499 437.02,499" fill="#000"/>
<polygon points="57.45,460.9 61.2,466.7 53.7,466.7" fill="#fff" stroke="#000" stroke-width="1.05" stroke-linejoin="miter"/>
<polygon points="129.2,475.2 132.95,481 125.45,481" fill="#fff" stroke="#000" stroke-width="1.05" stroke-linejoin="miter"/>
<polygon points="165.08,465.9 168.83,472.2 161.33,472.2" fill="#fff" stroke="#000" stroke-width="1.05" stroke-linejoin="miter"/>
<polygon points="200.95,444 204.7,450.1 197.2,450.1" fill="#fff" stroke="#000" stroke-width="1.05" stroke-linejoin="miter"/>
<polygon points="272.7,471.5 276.45,477.2 268.95,477.2" fill="#fff" stroke="#000" stroke-width="1.05" stroke-linejoin="miter"/>
<polygon points="308.57,424 312.32,430.1 304.82,430.1" fill="#fff" stroke="#000" stroke-width="1.05" stroke-linejoin="miter"/>
<polygon points="344.45,462.2 348.2,468.3 340.7,468.3" fill="#fff" stroke="#000" stroke-width="1.05" stroke-linejoin="miter"/>
<polygon points="380.32,497.3 384.07,503.4 376.57,503.4" fill="#fff" stroke="#000" stroke-width="1.05" stroke-linejoin="miter"/>
<polygon points="416.2,484.6 419.95,491.1 412.45,491.1" fill="#fff" stroke="#000" stroke-width="1.05" stroke-linejoin="miter"/>
<polygon points="452.07,478.1 455.82,484.2 448.32,484.2" fill="#fff" stroke="#000" stroke-width="1.05" stroke-linejoin="miter"/>
<polyline points="117.55,473.6 117.55,457.5 128.8,457.5 128.8,473.6" fill="none" stroke="#262626" stroke-width="1.15" stroke-linejoin="round"/>
<circle cx="122.9" cy="452.7" r="1.3" fill="#222"/>
<polyline points="153.45,464.3 153.45,448.2 164.6,448.2 164.6,464.3" fill="none" stroke="#262626" stroke-width="1.15" stroke-linejoin="round"/>
<circle cx="158.9" cy="443.7" r="1.3" fill="#222"/>
<polyline points="260.8,469.8 260.8,453.4 272.45,453.4 272.45,469.8" fill="none" stroke="#262626" stroke-width="1.15" stroke-linejoin="round"/>
<circle cx="266.5" cy="449.1" r="1.3" fill="#222"/>
<polyline points="332.6,460.3 332.6,444.1 344.4,444.1 344.4,460.3" fill="none" stroke="#262626" stroke-width="1.15" stroke-linejoin="round"/>
<circle cx="338.2" cy="439.5" r="1.3" fill="#222"/>
<text x="135.85" y="328.9" font-size="10.3" fill="#1e1e1e" stroke="#1e1e1e" stroke-width="0.3" textLength="254.75" lengthAdjust="spacingAndGlyphs">Anti-MRTFA ChIP-PCR on primary human BM derived cells</text>
<text x="6.1" y="316.9" font-size="12" fill="#1e1e1e" stroke="#1e1e1e" stroke-width="0.15">B</text>
<rect x="420.4" y="341.2" width="10.4" height="4.4" fill="#a5002c"/>
<text x="436.54" y="345.9" font-size="8.5" fill="#a5002c" stroke="#a5002c" stroke-width="0.08" textLength="40.92" lengthAdjust="spacingAndGlyphs">Monocytes</text>
<rect x="420.4" y="354.2" width="10.4" height="4.4" fill="#2c4a86"/>
<text x="440.04" y="358.9" font-size="8.5" fill="#2c4a86" stroke="#2c4a86" stroke-width="0.08" textLength="48.67" lengthAdjust="spacingAndGlyphs">CD41+CD42-</text>
<rect x="420.4" y="366.4" width="10.4" height="4.6" fill="#69a93e"/>
<text x="440.34" y="371.5" font-size="8.5" fill="#69a93e" stroke="#69a93e" stroke-width="0.08" textLength="50.42" lengthAdjust="spacingAndGlyphs">CD41+CD42+</text>
<text transform="translate(13.4 488.1) rotate(-90)" font-size="10.4" fill="#1e1e1e" stroke="#1e1e1e" stroke-width="0.2" textLength="59.8" lengthAdjust="spacingAndGlyphs">Percent input</text>
<rect x="0" y="0" width="520" height="1.3" fill="#222"/>
<rect x="0" y="0" width="1.2" height="590" fill="#111"/>
<rect x="518.3" y="0" width="1.7" height="590" fill="#111"/>
<rect x="0" y="588.3" width="520" height="1.7" fill="#111"/>
</svg>
</body></html>
